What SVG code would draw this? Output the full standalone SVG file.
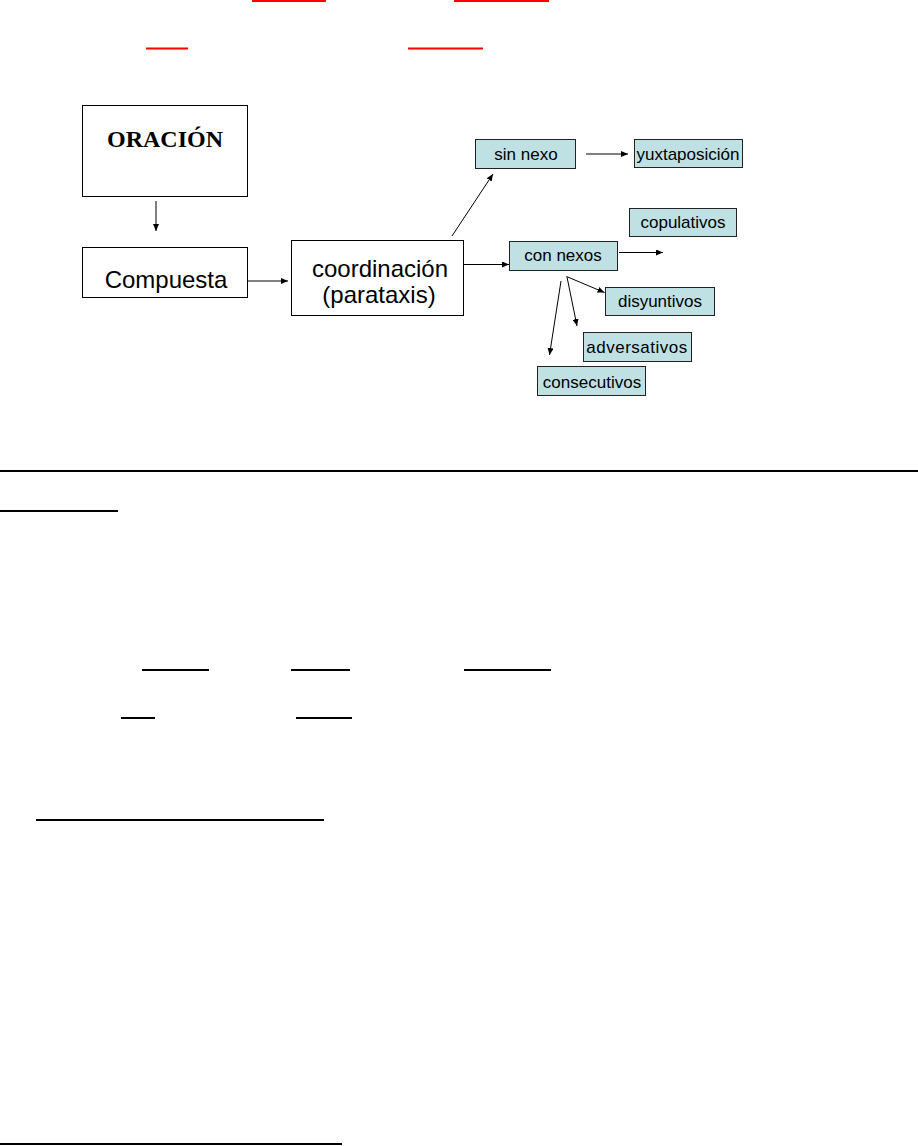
<svg xmlns="http://www.w3.org/2000/svg" width="918" height="1146" viewBox="0 0 918 1146">
<style>
.plain{fill:#ffffff;stroke:#000;stroke-width:1}
.blue{fill:#bfe1e4;stroke:#222;stroke-width:1}
.lbl{font-family:"Liberation Sans",Arial,sans-serif;font-size:17px;fill:#000;text-anchor:middle}
.big{font-family:"Liberation Sans",Arial,sans-serif;font-size:24px;fill:#000;text-anchor:middle}
.conn line{stroke:#000;stroke-width:1;fill:none;marker-end:url(#ah)}
.rule{stroke:#000;stroke-width:2}
.red{stroke:#ff0000;stroke-width:2}
</style>
<defs>
<marker id="ah" markerUnits="userSpaceOnUse" markerWidth="8" markerHeight="6" refX="7" refY="3" orient="auto">
<path d="M0,0 L7,3 L0,6 z" fill="#000"/>
</marker>
</defs>
<rect width="918" height="1146" fill="#ffffff"/>

<g id="red-underlines">
<line class="red" x1="252" y1="1" x2="326" y2="1"/>
<line class="red" x1="454" y1="1" x2="549" y2="1"/>
<line class="red" x1="146" y1="48.5" x2="188" y2="48.5"/>
<line class="red" x1="408" y1="48.5" x2="483" y2="48.5"/>
</g>

<g id="n-oracion">
<rect class="plain" x="82.5" y="105.5" width="165" height="91"/>
<text x="165" y="147" font-family="'Liberation Serif','Times New Roman',serif" font-weight="bold" font-size="24" text-anchor="middle">ORACIÓN</text>
</g>
<g id="n-compuesta">
<rect class="plain" x="82.5" y="247.5" width="165" height="50"/>
<text class="big" x="166" y="288">Compuesta</text>
</g>
<g id="n-coordinacion">
<rect class="plain" x="291.5" y="240.5" width="172" height="75"/>
<text class="big" x="380" y="277">coordinación</text>
<text class="big" x="379" y="303">(parataxis)</text>
</g>
<g id="n-sinnexo">
<rect class="blue" x="475.5" y="139.5" width="100" height="29"/>
<text class="lbl" x="526" y="160">sin nexo</text>
</g>
<g id="n-yuxtaposicion">
<rect class="blue" x="634.5" y="139.5" width="108" height="28"/>
<text class="lbl" x="688" y="160">yuxtaposición</text>
</g>
<g id="n-copulativos">
<rect class="blue" x="629.5" y="208.5" width="107" height="28"/>
<text class="lbl" x="683" y="228">copulativos</text>
</g>
<g id="n-connexos">
<rect class="blue" x="509.5" y="241.5" width="108" height="29"/>
<text class="lbl" x="563" y="261">con nexos</text>
</g>
<g id="n-disyuntivos">
<rect class="blue" x="605.5" y="287.5" width="109" height="28"/>
<text class="lbl" x="660" y="307">disyuntivos</text>
</g>
<g id="n-adversativos">
<rect class="blue" x="583.5" y="332.5" width="108" height="29"/>
<text class="lbl" x="637" y="353" letter-spacing="0.5">adversativos</text>
</g>
<g id="n-consecutivos">
<rect class="blue" x="537.5" y="366.5" width="108" height="29"/>
<text class="lbl" x="592" y="388">consecutivos</text>
</g>

<g id="connectors" class="conn">
<line x1="156" y1="201" x2="156" y2="231"/>
<line x1="248" y1="281" x2="288" y2="281"/>
<line x1="452" y1="236" x2="493" y2="174"/>
<line x1="586" y1="154" x2="628" y2="154"/>
<line x1="464" y1="264.5" x2="509" y2="264.5"/>
<line x1="619" y1="252.5" x2="663" y2="252.5"/>
<line x1="566.5" y1="276.5" x2="604.5" y2="292.5"/>
<line x1="567" y1="277" x2="577" y2="326"/>
<line x1="561" y1="281" x2="549.5" y2="355"/>
</g>

<g id="rules">
<line class="rule" x1="0" y1="471" x2="918" y2="471"/>
<line class="rule" x1="0" y1="511" x2="118" y2="511"/>
<line class="rule" x1="142" y1="670" x2="209" y2="670"/>
<line class="rule" x1="291" y1="670" x2="350" y2="670"/>
<line class="rule" x1="464" y1="670" x2="551" y2="670"/>
<line class="rule" x1="121" y1="718" x2="155" y2="718"/>
<line class="rule" x1="296" y1="718" x2="352" y2="718"/>
<line class="rule" x1="36" y1="820" x2="324" y2="820"/>
<line class="rule" x1="0" y1="1144" x2="342" y2="1144"/>
</g>
</svg>
